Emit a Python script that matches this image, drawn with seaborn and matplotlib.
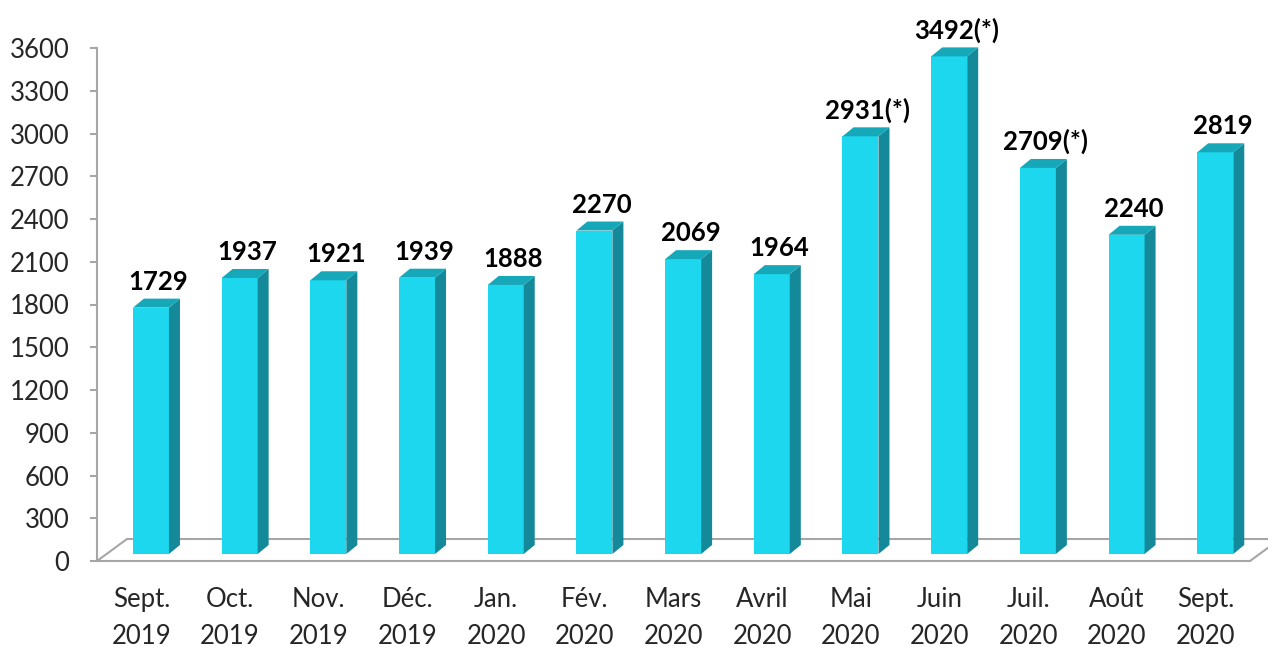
import matplotlib
matplotlib.use('Agg')
import matplotlib.pyplot as plt
from matplotlib.patches import Polygon
import seaborn as sns
import pandas as pd

# data
months = ['Sept.\n2019', 'Oct.\n2019', 'Nov.\n2019', 'Déc.\n2019', 'Jan.\n2020', 'Fév.\n2020',
          'Mars\n2020', 'Avril\n2020', 'Mai\n2020', 'Juin\n2020', 'Juil.\n2020', 'Août\n2020',
          'Sept.\n2020']
values = [1729, 1937, 1921, 1939, 1888, 2270, 2069, 1964, 2931, 3492, 2709, 2240, 2819]
labels = ['1729', '1937', '1921', '1939', '1888', '2270', '2069', '1964', '2931(*)',
          '3492(*)', '2709(*)', '2240', '2819']
yticks = list(range(0, 3601, 300))

front_col = '#1DD7EE'
side_col = '#13899A'
top_col = '#16A8B9'
axis_col = '#A6A6A6'

sns.set_style('white')
plt.rcParams['font.family'] = ['Lato', 'DejaVu Sans']

fig = plt.figure(figsize=(12.68, 6.47), dpi=100)
ax = fig.add_axes([97 / 1268, 86 / 647, 1153 / 1268, 513 / 647])

df = pd.DataFrame({'month': months, 'value': values})
sns.barplot(data=df, x='month', y='value', color=front_col, width=0.406,
            saturation=1, ax=ax, zorder=3)

ax.set_xlim(-0.5, 12.5)
ax.set_ylim(0, 3600)

# pixel offsets -> data units
bb = ax.get_window_extent()
ux = bb.width / 13
uy = bb.height / 3600
fx, fy = 9.6 / ux, 7 / uy        # bar front face offset (depth into floor)
dx, dy = 11 / ux, 9 / uy         # bar depth
gx, gy = 30 / ux, 22 / uy        # floor depth

# floor
ax.plot([-0.5, -0.5 + gx, 12.5 + gx], [0, gy, gy], color=axis_col, lw=1.5,
        clip_on=False, zorder=1)
ax.plot([12.5, 12.5 + gx], [0, gy], color=axis_col, lw=1.5, clip_on=False, zorder=1)

for p in ax.patches:
    x0 = p.get_x() + fx
    w = p.get_width()
    h = p.get_height()
    p.set_x(x0)
    p.set_y(fy)
    p.set_clip_on(False)
    p.set_linewidth(0)
    x1 = x0 + w
    side = Polygon([(x1, fy), (x1 + dx, fy + dy), (x1 + dx, fy + dy + h), (x1, fy + h)],
                   closed=True, facecolor=side_col, edgecolor='none', zorder=3, clip_on=False)
    top = Polygon([(x0, fy + h), (x1, fy + h), (x1 + dx, fy + h + dy), (x0 + dx, fy + h + dy)],
                  closed=True, facecolor=top_col, edgecolor='none', zorder=3, clip_on=False)
    ax.add_patch(side)
    ax.add_patch(top)

for i, (v, t) in enumerate(zip(values, labels)):
    ax.annotate(t, (i, v), xytext=(17, 25), textcoords='offset pixels', ha='center',
                va='baseline', fontsize=18.5, fontweight='bold', color='black',
                annotation_clip=False)

ax.set_yticks(yticks)
ax.set_yticklabels([str(t) for t in yticks])
ax.set_xticks(range(13))
ax.set_xticklabels(months, linespacing=1.57)
ax.set_xticks([i - 0.5 for i in range(14)], minor=True)
ax.tick_params(axis='x', which='major', length=0, pad=19, labelsize=18.5)
ax.tick_params(axis='x', which='minor', length=7, width=1.5, color=axis_col, direction='out')
ax.tick_params(axis='y', length=5, width=1.5, color=axis_col, direction='out', pad=15,
               labelsize=18.5, left=True)
ax.set_xlabel('')
ax.set_ylabel('')

for s in ['top', 'right']:
    ax.spines[s].set_visible(False)
for s in ['left', 'bottom']:
    ax.spines[s].set_color(axis_col)
    ax.spines[s].set_linewidth(1.5)

fig.savefig('out.png', dpi=100)
